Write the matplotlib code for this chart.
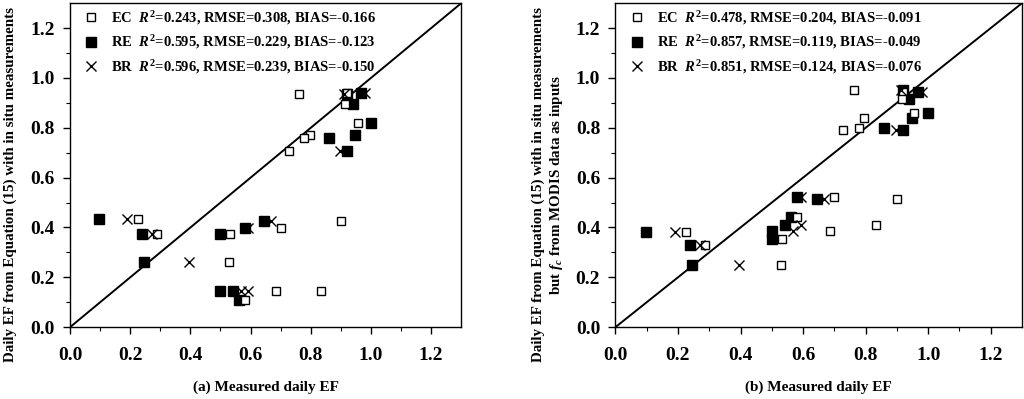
import numpy as np
import matplotlib
matplotlib.use('Agg')
import matplotlib.pyplot as plt

plt.rcParams['font.family'] = ['Liberation Serif', 'DejaVu Serif']
plt.rcParams['font.weight'] = 'bold'
plt.rcParams['axes.labelweight'] = 'bold'
plt.rcParams['mathtext.fontset'] = 'custom'
plt.rcParams['mathtext.rm'] = 'Liberation Serif:bold'
plt.rcParams['mathtext.it'] = 'Liberation Serif:italic:bold'
plt.rcParams['mathtext.bf'] = 'Liberation Serif:bold'

nan = np.nan

# measured daily EF at each site (one entry per day)
ec_x = [0.227, 0.288, 0.529, 0.532, 0.700, 0.902, 0.686, 0.834, 0.581, 0.762, 0.920, 0.915, 0.956, 0.796, 0.778, 0.728]
re_x = [0.097, 0.240, 0.246, 0.500, 0.580, 0.645, 0.500, 0.541, 0.561, 0.920, 0.967, 0.940, 1.000, 0.947, 0.859, 0.920]
br_x = [0.190, 0.271, 0.394, nan, 0.593, 0.667, 0.568, 0.593, nan, 0.912, 0.980, nan, nan, nan, nan, 0.898]

# estimated daily EF: (a) in situ inputs, (b) fc from MODIS
est_a = [0.436, 0.375, 0.262, 0.375, 0.397, 0.427, 0.144, 0.144, 0.108, 0.934, 0.939, 0.896, 0.820, 0.771, 0.760, 0.705]
est_b = [0.380, 0.330, 0.251, 0.353, 0.522, 0.513, 0.385, 0.410, 0.442, 0.953, 0.942, 0.916, 0.861, 0.840, 0.801, 0.792]

stats_a = {'EC': (0.243, 0.308, -0.166), 'RE': (0.595, 0.229, -0.123), 'BR': (0.596, 0.239, -0.150)}
stats_b = {'EC': (0.478, 0.204, -0.091), 'RE': (0.857, 0.119, -0.049), 'BR': (0.851, 0.124, -0.076)}

ylabel_a = 'Daily EF from Equation (15) with in situ measurements'
ylabel_b = 'Daily EF from Equation (15) with in situ measurements\nbut $f_c$ from MODIS data as inputs'
xlabel_a = '(a) Measured daily EF'
xlabel_b = '(b) Measured daily EF'

ticks = [0.0, 0.2, 0.4, 0.6, 0.8, 1.0, 1.2]


def lab(site, st):
    return f'{site}  $R^2$=%.3f, RMSE=%.3f, BIAS=%.3f' % st


def draw(ax, est, stats, xlabel, ylabel, ylab_x):
    ax.plot([0, 1.3], [0, 1.3], color='black', lw=1.4, zorder=1)
    ax.plot(ec_x, est, ls='none', marker='s', ms=5.5, mfc='white', mec='black', mew=1.0,
            label=lab('EC', stats['EC']), zorder=3)
    ax.plot(re_x, est, ls='none', marker='s', ms=6.8, mfc='black', mec='black',
            label=lab('RE', stats['RE']), zorder=2)
    ax.plot(br_x, est, ls='none', marker='x', ms=6.5, mec='black', mew=1.0,
            label=lab('BR', stats['BR']), zorder=4)
    ax.set_xlim(0, 1.3)
    ax.set_ylim(0, 1.3)
    ax.set_xticks(ticks)
    ax.set_yticks(ticks)
    ax.set_xticks(np.arange(0.1, 1.3, 0.2), minor=True)
    ax.set_yticks(np.arange(0.1, 1.3, 0.2), minor=True)
    ax.xaxis.set_major_formatter(matplotlib.ticker.FormatStrFormatter('%.1f'))
    ax.yaxis.set_major_formatter(matplotlib.ticker.FormatStrFormatter('%.1f'))
    ax.tick_params(which='major', direction='out', length=5, width=1.0, labelsize=14)
    ax.tick_params(axis='x', which='major', pad=9)
    ax.tick_params(axis='y', which='major', pad=6)
    ax.tick_params(which='minor', direction='out', length=3, width=0.8)
    for s in ax.spines.values():
        s.set_linewidth(1.0)
    ax.set_xlabel(xlabel, fontsize=11)
    ax.set_ylabel(ylabel, fontsize=10.8, linespacing=1.25)
    ax.xaxis.set_label_coords(0.5, -0.165)
    ax.yaxis.set_label_coords(ylab_x, 0.44)
    ax.legend(loc='upper left', bbox_to_anchor=(0.02, 1.0), frameon=False, fontsize=10.5,
              handlelength=1.0, handletextpad=0.9, labelspacing=0.45, borderaxespad=0.0)


fig = plt.figure(figsize=(10.24, 3.99), dpi=100)
ax1 = fig.add_axes([0.0684, 0.180, 0.382, 0.812])
ax2 = fig.add_axes([0.601, 0.180, 0.397, 0.812])
draw(ax1, est_a, stats_a, xlabel_a, ylabel_a, -0.136)
draw(ax2, est_b, stats_b, xlabel_b, ylabel_b, -0.123)

fig.savefig('out.png', dpi=100)
